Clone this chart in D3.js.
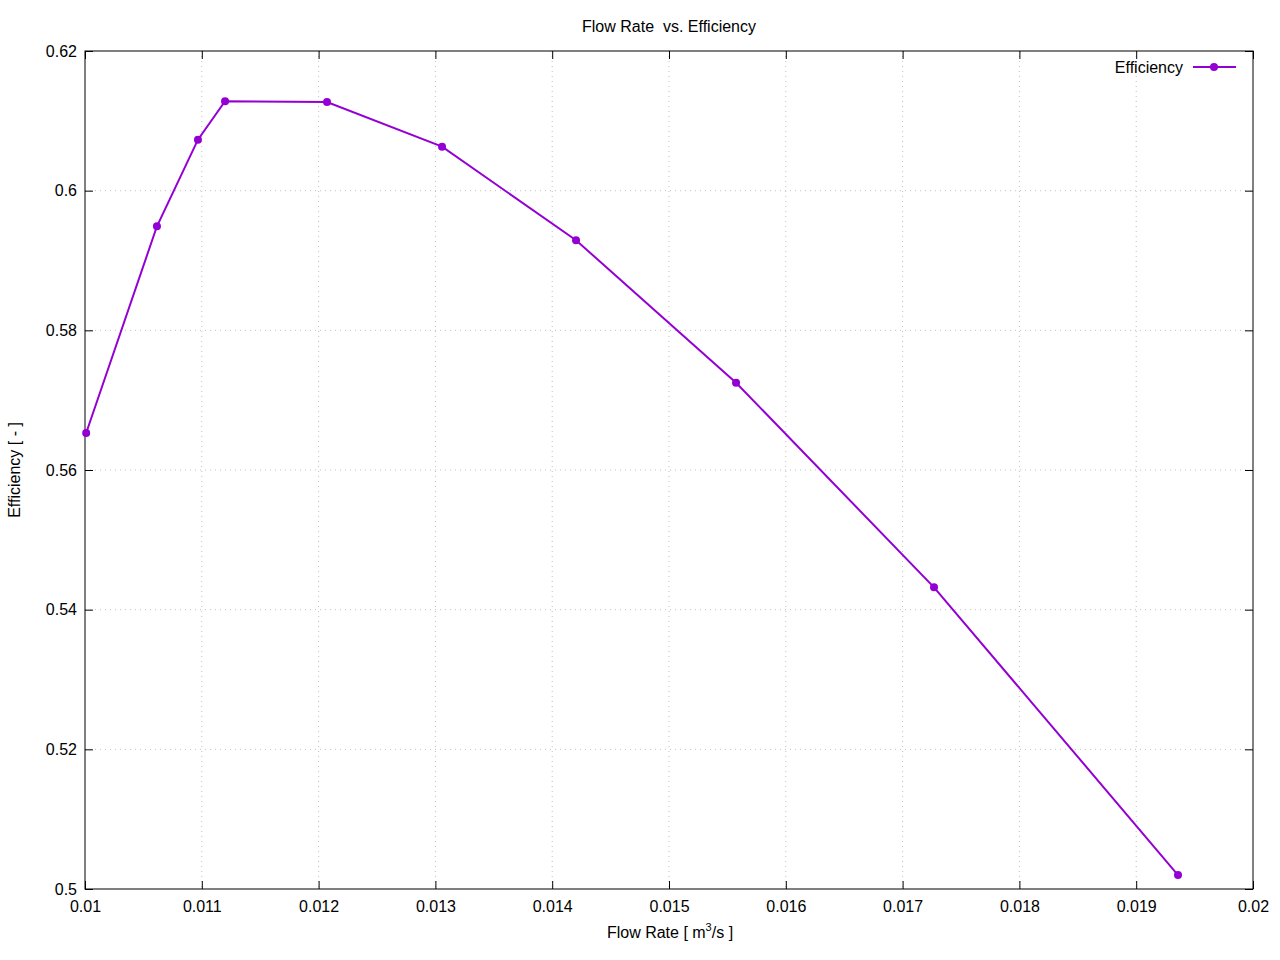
<!DOCTYPE html>
<html><head><meta charset="utf-8">
<script src="https://cdn.jsdelivr.net/npm/d3@7"></script>
<style>body{margin:0;background:#fff}svg{font-family:"Liberation Sans",Arial,sans-serif}</style>
</head><body>
<svg id="c" width="1280" height="960"></svg>
<script>
const flowRate = [0.01001, 0.010616, 0.010967, 0.011199, 0.012072, 0.013057, 0.014204, 0.015574, 0.017269, 0.019358];
const efficiency = [0.5653, 0.5949, 0.6073, 0.6128, 0.6127, 0.6063, 0.5929, 0.5725, 0.5432, 0.5020];
const xTicks = [0.01, 0.011, 0.012, 0.013, 0.014, 0.015, 0.016, 0.017, 0.018, 0.019, 0.02];
const yTicks = [0.5, 0.52, 0.54, 0.56, 0.58, 0.6, 0.62];
const xTickLabels = ["0.01","0.011","0.012","0.013","0.014","0.015","0.016","0.017","0.018","0.019","0.02"];
const yTickLabels = ["0.5","0.52","0.54","0.56","0.58","0.6","0.62"];
const color = "#9400d3";
const FS = 16;

const svg = d3.select("#c");
const L=85, R=1253, T=51, B=889;
const x = d3.scaleLinear().domain([0.01,0.02]).range([L,R]);
const y = d3.scaleLinear().domain([0.5,0.62]).range([B,T]);

// grid
const g = svg.append("g");
g.selectAll(".gx").data(xTicks.slice(1,-1)).enter().append("line")
 .attr("x1",d=>x(d)).attr("x2",d=>x(d)).attr("y1",T).attr("y2",B)
 .attr("stroke","#c0c0c0").attr("stroke-width",1).attr("stroke-dasharray","1,4");
g.selectAll(".gy").data(yTicks.slice(1,-1)).enter().append("line")
 .attr("y1",d=>y(d)).attr("y2",d=>y(d)).attr("x1",L).attr("x2",R)
 .attr("stroke","#c0c0c0").attr("stroke-width",1).attr("stroke-dasharray","1,4");

// axes
const fmtX = (d,i)=>xTickLabels[i], fmtY=(d,i)=>yTickLabels[i];
const ax = svg.append("g").attr("transform",`translate(0,${B})`)
 .call(d3.axisBottom(x).tickValues(xTicks).tickFormat(fmtX).tickSizeInner(-8).tickSizeOuter(0).tickPadding(12));
const axTop = svg.append("g").attr("transform",`translate(0,${T})`)
 .call(d3.axisTop(x).tickValues(xTicks).tickFormat("").tickSizeInner(-8).tickSizeOuter(0));
const ay = svg.append("g").attr("transform",`translate(${L},0)`)
 .call(d3.axisLeft(y).tickValues(yTicks).tickFormat(fmtY).tickSizeInner(-8).tickSizeOuter(0).tickPadding(8));
const ayR = svg.append("g").attr("transform",`translate(${R},0)`)
 .call(d3.axisRight(y).tickValues(yTicks).tickFormat("").tickSizeInner(-8).tickSizeOuter(0));
[ax,axTop,ay,ayR].forEach(a=>{
 a.attr("font-size",FS).attr("font-family",null);
 a.select(".domain").remove();
 a.selectAll("line").attr("stroke","#000");
 a.selectAll("text").attr("fill","#000");
});
svg.append("rect").attr("x",L).attr("y",T).attr("width",R-L).attr("height",B-T)
 .attr("fill","none").attr("stroke","#000").attr("stroke-width",1);

// line
const data = flowRate.map((d,i)=>({x:d,y:efficiency[i]}));
svg.append("path").datum(data)
 .attr("d",d3.line().x(d=>x(d.x)).y(d=>y(d.y)))
 .attr("fill","none").attr("stroke",color).attr("stroke-width",2);
svg.selectAll(".pt").data(data).enter().append("circle")
 .attr("cx",d=>x(d.x)).attr("cy",d=>y(d.y)).attr("r",4).attr("fill",color);

// legend
svg.append("text").attr("x",1183).attr("y",73).attr("text-anchor","end")
 .attr("font-size",FS).text("Efficiency");
svg.append("line").attr("x1",1193).attr("x2",1236).attr("y1",67).attr("y2",67)
 .attr("stroke",color).attr("stroke-width",2);
svg.append("circle").attr("cx",1214).attr("cy",67).attr("r",4).attr("fill",color);

// titles
svg.append("text").attr("x",669).attr("y",32).attr("text-anchor","middle").attr("font-size",FS)
 .style("white-space","pre").text("Flow Rate  vs. Efficiency");
const xl = svg.append("text").attr("x",670).attr("y",938).attr("text-anchor","middle").attr("font-size",FS);
xl.append("tspan").text("Flow Rate [ m");
xl.append("tspan").attr("font-size",11).attr("dy",-7).text("3");
xl.append("tspan").attr("dy",7).text("/s ]");
svg.append("text").attr("transform","translate(20,470) rotate(-90)").attr("text-anchor","middle").attr("font-size",FS).text("Efficiency [ - ]");
</script>
</body></html>
